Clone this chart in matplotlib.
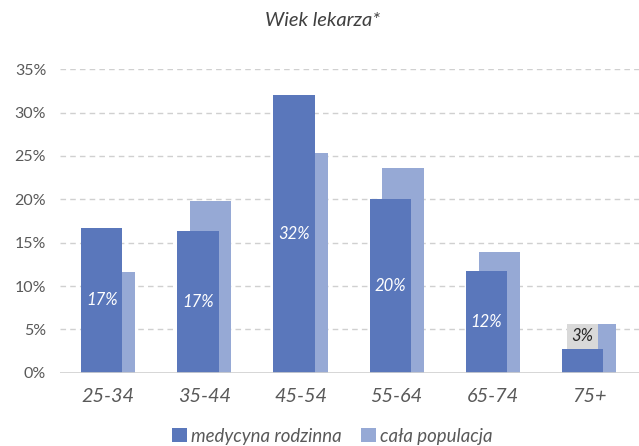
import matplotlib.pyplot as plt
import numpy as np

groups = ['25-34', '35-44', '45-54', '55-64', '65-74', '75+']
medycyna = [16.7, 16.4, 32.0, 20.0, 11.7, 2.8]
populacja = [11.6, 19.8, 25.3, 23.6, 13.9, 5.6]
labels = ['17%', '17%', '32%', '20%', '12%', '3%']

dark = '#5A77BB'
light = '#96A9D5'
grey = '#595959'

plt.rcParams['font.family'] = ['Lato', 'DejaVu Sans']

fig = plt.figure(figsize=(6.39, 4.46), dpi=100)
ax = fig.add_axes([0.094, 0.164, 0.906, 0.681])

x = np.arange(len(groups))
w = 0.43
off = 0.067
ax.bar(x + off, populacja, width=w, color=light, label='cała populacja', zorder=2)
ax.bar(x - off, medycyna, width=w, color=dark, label='medycyna rodzinna', zorder=3)

for i, v in enumerate(medycyna):
    if v < 5:
        # small bar: label sits above with a grey box
        ax.text(x[i] - off, 4.2, labels[i], ha='center', va='center', fontsize=12,
                style='italic', color='#262626', zorder=5,
                bbox=dict(boxstyle='square,pad=0.25', fc='#D9D9D9', ec='none'))
    else:
        ax.text(x[i] - off, v / 2, labels[i], ha='center', va='center', fontsize=12,
                style='italic', color='white', zorder=5)

ax.set_ylim(0, 35)
ax.set_xlim(-0.5, len(groups) - 0.48)
ax.set_yticks(np.arange(0, 36, 5))
ax.set_yticklabels([f'{t}%' for t in range(0, 36, 5)], fontsize=11.5, color=grey)
ax.set_xticks(x)
ax.set_xticklabels(groups, fontsize=14.3, style='italic', color=grey)
ax.tick_params(axis='both', length=0)
ax.tick_params(axis='x', pad=11)
ax.tick_params(axis='y', pad=10)

for t in range(5, 36, 5):
    ax.axhline(t, color='#D0D0D0', lw=1, ls=(0, (4, 3)), zorder=1)
ax.axhline(0, color='#D0D0D0', lw=1.2, zorder=4)

for s in ax.spines.values():
    s.set_visible(False)

fig.text(0.505, 0.953, 'Wiek lekarza*', ha='center', va='center', fontsize=14.5,
         style='italic', color='#404040')

h, l = ax.get_legend_handles_labels()
fig.legend(h[::-1], l[::-1], loc='center', bbox_to_anchor=(0.52, 0.022), ncol=2,
           frameon=False, handlelength=0.8, handleheight=0.8, handletextpad=0.25,
           columnspacing=1.0, prop={'size': 13.4, 'style': 'italic'},
           labelcolor=grey)

fig.savefig('out.png', dpi=100)
